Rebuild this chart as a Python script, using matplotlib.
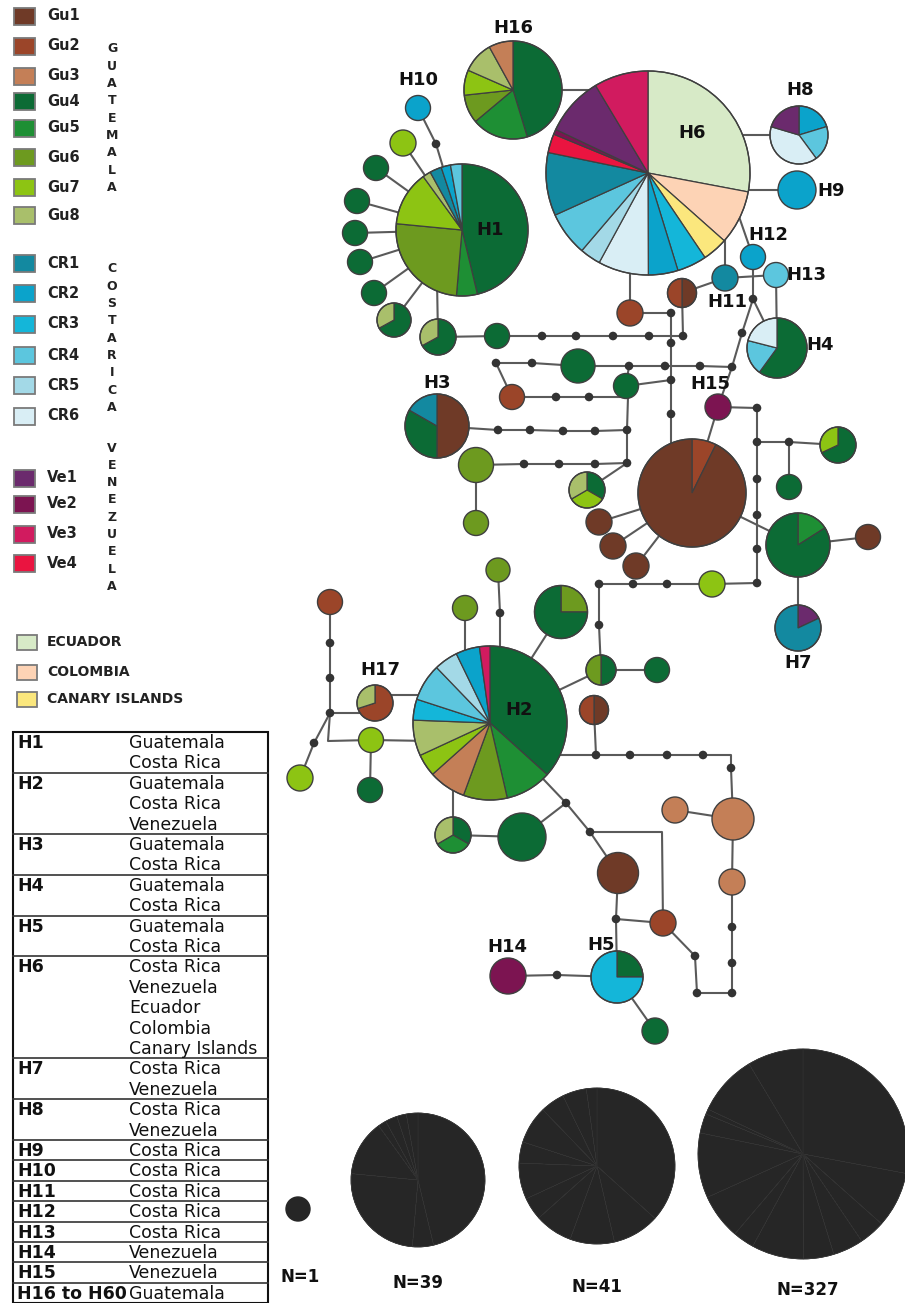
import matplotlib.pyplot as plt
from matplotlib.patches import Wedge, Circle, Rectangle

# ---- populations / colours -------------------------------------------------
gu_names = ['Gu1', 'Gu2', 'Gu3', 'Gu4', 'Gu5', 'Gu6', 'Gu7', 'Gu8']
gu_colors = ['#6f3a27', '#9b4529', '#c47f57', '#0c6b35', '#1e8f34', '#6d9a1f', '#8dc413', '#a9bf6b']
cr_names = ['CR1', 'CR2', 'CR3', 'CR4', 'CR5', 'CR6']
cr_colors = ['#1389a0', '#0ba3cb', '#14b6d9', '#5cc6de', '#a3d9e7', '#d9eef5']
ve_names = ['Ve1', 'Ve2', 'Ve3', 'Ve4']
ve_colors = ['#6b2a6d', '#7c1451', '#d11b5f', '#ea1440']
other_names = ['ECUADOR', 'COLOMBIA', 'CANARY ISLANDS']
other_keys = ['Ecu', 'Col', 'Can']
other_colors = ['#d7eac7', '#fdd3b5', '#fbe77d']

colors = dict(zip(gu_names + cr_names + ve_names + other_keys,
                  gu_colors + cr_colors + ve_colors + other_colors))

# ---- haplotype composition (percent, clockwise from 12 o'clock) -------------
h6_pops = ['Ecu', 'Col', 'Can', 'CR3', 'CR2', 'CR6', 'CR5', 'CR4', 'CR1', 'Ve4', 'Ve2', 'Ve1', 'Ve3']
h6_share = [28, 8.6, 4, 4.7, 4.7, 8, 3.3, 7, 10, 3, 0.8, 9.4, 8.6]
h1_pops = ['Gu4', 'Gu5', 'Gu6', 'Gu7', 'Gu8', 'CR1', 'CR2', 'CR4']
h1_share = [46.3, 5.1, 25.2, 13.5, 2, 2.9, 2.3, 2.8]
h2_pops = ['Gu4', 'Gu5', 'Gu6', 'Gu3', 'Gu7', 'Gu8', 'CR3', 'CR4', 'CR5', 'CR2', 'Ve3']
h2_share = [36.7, 9.7, 9.2, 7.8, 4.7, 7.5, 4.4, 7.8, 5.0, 5.0, 2.2]
h16_pops = ['Gu4', 'Gu5', 'Gu6', 'Gu7', 'Gu8', 'Gu3']
h16_share = [45.3, 18.6, 9.4, 8.3, 10.4, 8]
h8_pops = ['CR2', 'CR4', 'CR6', 'Ve1']
h8_share = [20.3, 19.6, 39.7, 20.4]
h4_pops = ['Gu4', 'CR4', 'CR6']
h4_share = [60, 19, 21]
h3_pops = ['Gu1', 'Gu4', 'CR1']
h3_share = [50, 33.3, 16.7]
h7_pops = ['Ve1', 'CR1']
h7_share = [18, 82]
h5_pops = ['Gu4', 'CR3']
h5_share = [25, 75]
h17_pops = ['Gu2', 'Gu8']
h17_share = [70, 30]

mix = {
    'H6': (h6_pops, h6_share), 'H1': (h1_pops, h1_share), 'H2': (h2_pops, h2_share),
    'H16': (h16_pops, h16_share), 'H8': (h8_pops, h8_share), 'H4': (h4_pops, h4_share),
    'H3': (h3_pops, h3_share), 'H7': (h7_pops, h7_share), 'H5': (h5_pops, h5_share),
    'H17': (h17_pops, h17_share),
    'g4g8': (['Gu4', 'Gu8'], [67, 33]),
    'g4g7g8': (['Gu4', 'Gu7', 'Gu8'], [33.3, 33.3, 33.4]),
    'g4g5g8': (['Gu4', 'Gu5', 'Gu8'], [33.3, 33.3, 33.4]),
    'g4g7': (['Gu4', 'Gu7'], [68, 32]),
    'g6g4': (['Gu6', 'Gu4'], [25, 75]),
    'g1g2': (['Gu1', 'Gu2'], [50, 50]),
    'g4g6': (['Gu4', 'Gu6'], [50, 50]),
    'g2g1big': (['Gu2', 'Gu1'], [7.3, 92.7]),
    'g5g4big': (['Gu5', 'Gu4'], [16, 84]),
}

# ---- network layout (pixel space): id, x, y, radius, composition ------------
nodes = [
    ('H6', 648, 173, 102, 'H6'), ('H16', 513, 90, 49, 'H16'), ('H1', 462, 230, 66, 'H1'),
    ('H10', 418, 108, 12.5, 'CR2'), ('g7a', 403, 143, 13, 'Gu7'),
    ('g4a', 376, 168, 12.5, 'Gu4'), ('g4b', 357, 201, 12.5, 'Gu4'), ('g4c', 355, 233, 12.5, 'Gu4'),
    ('g4d', 360, 262, 12.5, 'Gu4'), ('g4e', 374, 293, 12.5, 'Gu4'),
    ('p1', 394, 320, 17, 'g4g8'), ('p2', 438, 337, 18, 'g4g8'),
    ('H8', 799, 135, 29, 'H8'), ('H9', 797, 190, 19, 'CR2'),
    ('H12', 753, 257, 12.5, 'CR2'), ('H11', 725, 278, 13, 'CR1'), ('H13', 776, 275, 12.5, 'CR4'),
    ('s1', 682, 293, 14.5, 'g1g2'), ('g2a', 630, 313, 13, 'Gu2'), ('H4', 777, 348, 30, 'H4'),
    ('g4f', 497, 336, 12.5, 'Gu4'), ('g4g', 578, 366, 17, 'Gu4'), ('g2b', 512, 397, 12.5, 'Gu2'),
    ('g4h', 626, 386, 12.5, 'Gu4'), ('H3', 437, 426, 32, 'H3'),
    ('g6a', 476, 465, 17.5, 'Gu6'), ('g6b', 476, 523, 12.5, 'Gu6'), ('p3', 587, 490, 18, 'g4g7g8'),
    ('H15', 718, 407, 13, 'Ve2'), ('big1', 692, 493, 54, 'g2g1big'),
    ('g1a', 599, 522, 13, 'Gu1'), ('g1b', 613, 546, 13, 'Gu1'), ('g1c', 636, 566, 13, 'Gu1'),
    ('p4', 838, 445, 18, 'g4g7'), ('g4i', 789, 487, 12.5, 'Gu4'),
    ('big2', 798, 545, 32, 'g5g4big'), ('g1d', 868, 537, 12.5, 'Gu1'), ('H7', 798, 628, 23, 'H7'),
    ('g7b', 712, 584, 13, 'Gu7'), ('sp2', 601, 670, 15, 'g4g6'), ('g4j', 657, 670, 12.5, 'Gu4'),
    ('sp3', 594, 710, 14.5, 'g1g2'), ('H2', 490, 723, 77, 'H2'),
    ('g6c', 465, 608, 12.5, 'Gu6'), ('g6d', 498, 570, 12, 'Gu6'), ('p5', 561, 612, 26.5, 'g6g4'),
    ('H17', 375, 703, 18, 'H17'), ('g2c', 330, 602, 12.5, 'Gu2'),
    ('g7c', 371, 740, 12.5, 'Gu7'), ('g7d', 300, 778, 13, 'Gu7'), ('g4k', 370, 790, 12.5, 'Gu4'),
    ('p6', 453, 835, 18, 'g4g5g8'), ('g4l', 522, 837, 24, 'Gu4'),
    ('g1e', 618, 873, 20.5, 'Gu1'), ('g2d', 663, 923, 13, 'Gu2'), ('H5', 617, 977, 26, 'H5'),
    ('H14', 508, 976, 18, 'Ve2'), ('g4m', 655, 1031, 13, 'Gu4'),
    ('g3a', 733, 819, 21, 'Gu3'), ('g3b', 675, 810, 13, 'Gu3'), ('g3c', 732, 882, 13, 'Gu3'),
]

# median vectors / mutation steps
dots = {
    'm1': (436, 144),
    'r1a': (542, 336), 'r1b': (576, 336), 'r1c': (613, 336), 'r1d': (649, 336), 'r1e': (683, 336),
    'v1a': (671, 313), 'v1b': (671, 343), 'v1c': (671, 380), 'v1d': (671, 414),
    'r2a': (496, 363), 'r2b': (532, 363), 'r2c': (629, 366), 'r2d': (665, 366), 'r2e': (700, 366),
    'r2f': (732, 367), 'k1': (753, 299), 'k2': (742, 333),
    'r3a': (556, 397), 'r3b': (589, 397), 'v2a': (627, 430), 'v2b': (627, 463),
    'r4a': (498, 430), 'r4b': (530, 430), 'r4c': (563, 431), 'r4d': (595, 431),
    'r5a': (524, 464), 'r5b': (559, 464), 'r5c': (595, 464),
    'v3a': (757, 408), 'v3b': (757, 442), 'v3c': (757, 479), 'v3d': (757, 515), 'v3e': (757, 549),
    'v3f': (757, 583), 'b1': (789, 442),
    'r6a': (599, 584), 'r6b': (633, 584), 'r6c': (667, 584), 'r6d': (599, 625),
    'l1': (330, 643), 'l2': (330, 678), 'l3': (330, 713), 'l4': (314, 743), 't1': (500, 613),
    'r7a': (596, 755), 'r7b': (630, 755), 'r7c': (667, 755), 'r7d': (703, 755), 'r7e': (731, 768),
    'q1': (566, 803), 'q2': (590, 832), 'q3': (616, 919), 'q4': (557, 975),
    'z1': (695, 956), 'z2': (697, 993), 'z3': (732, 993), 'z4': (732, 963), 'z5': (732, 927),
}

edges = [
    ['H16', (600, 90)], ['H10', 'm1', 'H1'], ['g7a', 'H1'], ['g4a', 'H1'], ['g4b', 'H1'],
    ['g4c', 'H1'], ['g4d', 'H1'], ['g4e', 'H1'], ['p1', 'H1'], ['p2', (437, 280)],
    ['p2', 'g4f', 'r1a', 'r1b', 'r1c', 'r1d', 'r1e', 's1'],
    [(630, 250), 'g2a', 'v1a', 'v1b', 'v1c', 'v1d', (671, 450)],
    ['s1', 'H11'], [(725, 230), 'H11'], [(735, 205), 'H12'], ['H11', 'H13'],
    ['H12', 'k1', 'H4'], ['H13', 'H4'], ['k1', 'k2', 'r2f', 'H15'],
    ['H15', 'big1'], ['H15', 'v3a', 'v3b', 'v3c', 'v3d', 'v3e', 'v3f'],
    ['v3b', 'b1', 'p4'], ['b1', 'g4i'], ['big1', 'big2', 'g1d'], ['big2', 'H7'],
    ['big1', 'g1a'], ['big1', 'g1b'], ['big1', 'g1c'],
    [(700, 135), 'H8'], [(700, 190), 'H9'],
    ['r2a', 'r2b', 'g4g', 'r2c', 'r2d', 'r2e', 'r2f'], ['r2a', 'g2b'],
    ['g2b', 'r3a', 'r3b', (628, 397)], ['r2c', 'g4h', (628, 397), 'v2a', 'v2b', 'p3'],
    ['g4h', 'v1c'], ['H3', 'r4a', 'r4b', 'r4c', 'r4d', 'v2a'],
    ['g6a', 'r5a', 'r5b', 'r5c', 'v2b'], ['g6a', 'g6b'],
    ['r6a', 'r6b', 'r6c', 'g7b', 'v3f'], ['r6a', 'r6d', 'sp2', 'g4j'], ['H2', 'sp2'],
    [(465, 680), 'g6c'], ['g6d', 't1', (500, 680)], ['H2', 'p5'],
    [(375, 695), (430, 695)], ['g2c', 'l1', 'l2', 'l3', (370, 713)],
    ['l3', (328, 741), 'g7c', (430, 741)], ['l3', 'l4', 'g7d'], ['g7c', 'g4k'],
    [(540, 755), 'r7a', 'r7b', 'r7c', 'r7d', (731, 755), 'r7e', 'g3a'], ['sp3', 'r7a'],
    ['g3b', 'g3a', 'g3c', 'z5', 'z4', 'z3', 'z2', 'z1', 'g2d'],
    ['g2d', (662, 832), 'q2'], ['H2', 'q1', 'q2', 'g1e', 'q3', 'H5'], ['q3', 'g2d'],
    [(453, 760), 'p6', 'g4l', 'q1'], ['H14', 'q4', 'H5'], ['H5', 'g4m'],
]

labels = [
    ('H16', 513, 28), ('H10', 418, 80), ('H1', 490, 230), ('H6', 692, 133), ('H8', 800, 90),
    ('H9', 831, 191), ('H12', 768, 235), ('H11', 727, 302), ('H13', 806, 275), ('H4', 820, 345),
    ('H15', 710, 384), ('H3', 437, 383), ('H17', 380, 670), ('H2', 519, 710), ('H7', 798, 663),
    ('H5', 601, 945), ('H14', 507, 947),
]

# ---- size legend ------------------------------------------------------------
size_n = ['N=1', 'N=39', 'N=41', 'N=327']
size_mix = [None, 'H1', 'H2', 'H6']
size_xy = [(298, 1209, 12), (418, 1180, 67), (597, 1166, 78), (803, 1154, 105)]
size_lab = [(300, 1277), (418, 1283), (597, 1287), (808, 1290)]

# ---- haplotype table --------------------------------------------------------
table_haps = ['H1', 'H2', 'H3', 'H4', 'H5', 'H6', 'H7', 'H8', 'H9', 'H10', 'H11', 'H12',
              'H13', 'H14', 'H15', 'H16 to H60']
table_countries = [
    ['Guatemala', 'Costa Rica'], ['Guatemala', 'Costa Rica', 'Venezuela'],
    ['Guatemala', 'Costa Rica'], ['Guatemala', 'Costa Rica'], ['Guatemala', 'Costa Rica'],
    ['Costa Rica', 'Venezuela', 'Ecuador', 'Colombia', 'Canary Islands'],
    ['Costa Rica', 'Venezuela'], ['Costa Rica', 'Venezuela'], ['Costa Rica'], ['Costa Rica'],
    ['Costa Rica'], ['Costa Rica'], ['Costa Rica'], ['Venezuela'], ['Venezuela'], ['Guatemala'],
]

label_font = ['Liberation Sans Narrow', 'DejaVu Sans']
EDGE = '#5a5a5a'
OUTLINE = '#3f3f3f'


def draw_pie(ax, x, y, r, key, outline=OUTLINE, fill=None, lw=1.0, z=3):
    if key in colors:
        ax.add_patch(Circle((x, y), r, facecolor=colors[key], edgecolor=outline, lw=lw, zorder=z))
        return
    pops, share = mix[key]
    total = float(sum(share))
    a = 0.0
    for p, s in zip(pops, share):
        b = a + 360.0 * s / total
        # y axis is inverted, so increasing data angle runs clockwise on screen
        ax.add_patch(Wedge((x, y), r, -90 + a, -90 + b,
                           facecolor=fill if fill else colors[p],
                           edgecolor=outline, lw=lw * 0.9, zorder=z))
        a = b
    ax.add_patch(Circle((x, y), r, facecolor='none', edgecolor=outline, lw=lw, zorder=z + 0.1))


fig = plt.figure(figsize=(9.05, 13.03), dpi=100)
ax = fig.add_axes([0, 0, 1, 1])
ax.set_xlim(0, 905)
ax.set_ylim(1303, 0)
ax.axis('off')

pos = {n[0]: (n[1], n[2]) for n in nodes}
pos.update(dots)

for path in edges:
    pts = [pos[p] if isinstance(p, str) else p for p in path]
    ax.plot([p[0] for p in pts], [p[1] for p in pts], color=EDGE, lw=1.5,
            solid_capstyle='butt', zorder=1)

for name, x, y, r, key in nodes:
    draw_pie(ax, x, y, r, key)

for x, y in dots.values():
    ax.add_patch(Circle((x, y), 4.3, facecolor='#333333', edgecolor='none', zorder=5))

for txt, x, y in labels:
    ax.text(x, y, txt, ha='center', va='center', fontsize=13, fontweight='bold',
            family=label_font, color='#111111', zorder=6)

# size legend circles
for (x, y, r), key, n, (lx, ly) in zip(size_xy, size_mix, size_n, size_lab):
    if key is None:
        ax.add_patch(Circle((x, y), r, facecolor='#262626', edgecolor='#262626', zorder=3))
    else:
        draw_pie(ax, x, y, r, key, outline='#303030', fill='#262626', lw=0.5)
    ax.text(lx, ly, n, ha='center', va='center', fontsize=12, fontweight='bold',
            family=label_font, color='#111111')

# population legend
legend_groups = [
    (gu_names, gu_colors, [16, 46, 76, 101, 128, 157, 187, 215], 'GUATEMALA', 49),
    (cr_names, cr_colors, [263, 293, 324, 355, 385, 416], 'COSTARICA', 269),
    (ve_names, ve_colors, [478, 504, 534, 563], 'VENEZUELA', 448),
]
for names, cols, ys, word, y0 in legend_groups:
    for nm, c, y in zip(names, cols, ys):
        ax.add_patch(Rectangle((14, y - 8.5), 21, 17, facecolor=c, edgecolor='#7a7a7a', lw=1.3))
        ax.text(47, y, nm, ha='left', va='center', fontsize=10.5, fontweight='bold', color='#222222')
    for i, ch in enumerate(word):
        ax.text(112, y0 + i * 17.3, ch, ha='center', va='center', fontsize=9,
                fontweight='bold', color='#222222')

for nm, c, y in zip(other_names, other_colors, [642, 672, 699]):
    ax.add_patch(Rectangle((17, y - 7.5), 20, 15, facecolor=c, edgecolor='#7a7a7a', lw=1.3))
    ax.text(47, y, nm, ha='left', va='center', fontsize=10, fontweight='bold', color='#222222')

# haplotype table
top, row_h, left, right = 732, 20.4, 13, 268
y = top
for hap, ctry in zip(table_haps, table_countries):
    ax.text(17, y + 11, hap, ha='left', va='center', fontsize=12.5, fontweight='bold', color='#111111')
    for i, c in enumerate(ctry):
        ax.text(129, y + 11 + i * row_h, c, ha='left', va='center', fontsize=12.5, color='#111111')
    y += row_h * len(ctry)
    if hap != table_haps[-1]:
        ax.plot([left, right], [y, y], color='#333333', lw=1.2)
ax.add_patch(Rectangle((left, top), right - left, y - top, facecolor='none',
                       edgecolor='#111111', lw=1.5))

fig.savefig('out.png', dpi=100)
